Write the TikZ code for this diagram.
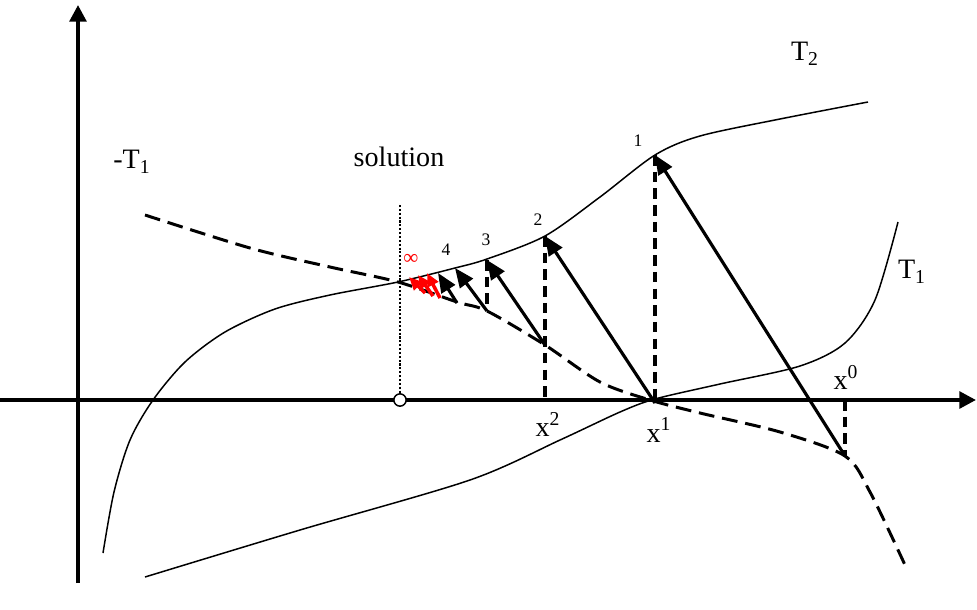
\documentclass[tikz,border=0pt]{standalone}
\usepackage{fontspec}
\setmainfont{Liberation Serif}
\usepackage{tikz}
\usetikzlibrary{arrows.meta}
\definecolor{mBlack}{HTML}{000000}
\definecolor{mRed}{HTML}{FF0000}

\begin{document}
\begin{tikzpicture}[x=0.02cm, y=-0.02cm, font=\fontsize{16}{19}\selectfont,
  axis/.style={line width=2.2pt, -{Triangle[length=9.5pt,width=9.5pt]}},
  curve/.style={line width=0.85pt},
  negcurve/.style={line width=1.7pt, dash pattern=on 9pt off 4.5pt},
  drop/.style={line width=1.8pt, dash pattern=on 6pt off 3.5pt},
  iter/.style={line width=1.8pt, -{Triangle[length=11pt,width=9pt]}},
  redstep/.style={line width=2pt, mRed, -{Triangle[length=7.5pt,width=6.5pt]}},
  num/.style={font=\fontsize{10}{12}\selectfont}]
\useasboundingbox (0,0) rectangle (977,609);
% axes
\draw[axis] (78,583) -- (78,5);
\draw[axis] (0,400) -- (976,400);
% T2
\draw[curve] plot[smooth] coordinates {(103,553) (114,492) (130,440) (153,400)
  (185,362) (225,332) (275,309) (330,295) (398,282) (455,268) (487,259) (545,236)
  (600,197) (655,155) (700,136) (780,119) (868,102)};
% T1
\draw[curve] plot[smooth] coordinates {(145,577) (300,530) (470,480) (560,440)
  (620,412) (655,399) (720,384) (800,366) (845,343) (875,300) (898,222)};
% -T1
\draw[negcurve] plot[smooth] coordinates {(145,215) (250,248) (330,267) (398,282)
  (457,302) (487,311) (545,345) (600,382) (650,400) (700,413) (780,432)
  (845,456) (870,492) (905,565)};
% points of the iteration
\coordinate (sol) at (398,282);
\coordinate (a0) at (845,400);
\coordinate (q0) at (845,456);
\coordinate (p1) at (655,155);
\coordinate (a1) at (655,400);
\coordinate (q1) at (655,403);
\coordinate (p2) at (545,236);
\coordinate (a2) at (545,400);
\coordinate (q2) at (545,345);
\coordinate (p3) at (487,260);
\coordinate (q3) at (487,311);
\coordinate (p4) at (455,268);
\coordinate (q4) at (457,303);
\coordinate (p5) at (438,273);
% solution marker
\node[circle, draw, line width=0.85pt, fill=white, inner sep=0pt, minimum size=7pt] (solpt) at (400,400) {};
\draw[line width=1.6pt, dash pattern=on 1.2pt off 1pt] (400,205) -- (solpt.north);
\node (soltxt) at (399,157) {solution};
% vertical drops
\draw[drop] (a0) -- (q0);
\draw[drop] (p1) -- (a1);
\draw[drop] (p2) -- (a2);
\draw[drop] (p3) -- (q3);
% steps
\draw[iter] (q0) -- (p1);
\draw[iter] (q1) -- (p2);
\draw[iter] (q2) -- (p3);
\draw[iter] (q3) -- (p4);
\draw[iter] (q4) -- (p5);
\draw[redstep] (440,298) -- (427,273);
\draw[redstep] (433,296) -- (418,275);
\draw[redstep] (425,293) -- (409,277);
% labels
\node (lblnegT) at (132,162) {-T\textsubscript{1}};
\node (lblTtwo) at (805,54) {T\textsubscript{2}};
\node (lblTone) at (912,272) {T\textsubscript{1}};
\node (lblxtwo) at (548,424) {x\textsuperscript{2}};
\node (lblxone) at (659,430) {x\textsuperscript{1}};
\node (lblxzero) at (846,377) {x\textsuperscript{0}};
\node[num] (lblone) at (638,141) {1};
\node[num] (lbltwo) at (538,220) {2};
\node[num] (lblthree) at (486,240) {3};
\node[num] (lblfour) at (446,250) {4};
\node[num, mRed, font=\fontsize{12}{14}\selectfont] (lblinf) at (411,259) {∞};
\end{tikzpicture}
\end{document}
